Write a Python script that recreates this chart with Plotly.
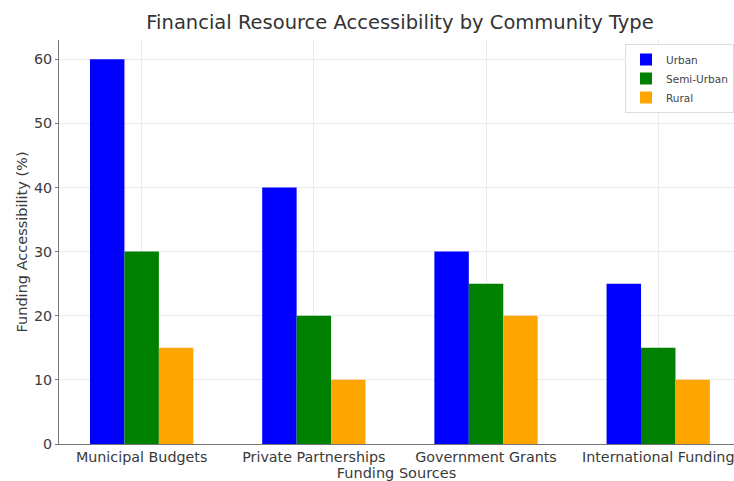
import plotly.graph_objects as go

categories = ["Municipal Budgets", "Private Partnerships", "Government Grants", "International Funding"]
urban = [60, 40, 30, 25]
semi_urban = [30, 20, 25, 15]
rural = [15, 10, 20, 10]
series_names = ["Urban", "Semi-Urban", "Rural"]
colors = ["#0000FF", "#008000", "#FFA500"]

FONT = "DejaVu Sans"

fig = go.Figure()
for name, vals, col in zip(series_names, [urban, semi_urban, rural], colors):
    fig.add_trace(go.Bar(x=categories, y=vals, name=name, marker=dict(color=col, line=dict(width=0))))

fig.update_layout(
    width=734, height=481,
    margin=dict(l=59, r=0, t=40, b=37),
    paper_bgcolor="white", plot_bgcolor="white",
    barmode="group", bargap=0.4, bargroupgap=0,
    font=dict(family=FONT, size=14.3, color="#3a3a3a"),
    title=dict(text="Financial Resource Accessibility by Community Type",
               x=400/734, xanchor="center", y=1 - 22/481, yanchor="middle",
               font=dict(family=FONT, size=19.5, color="#333333")),
    legend=dict(x=1, xanchor="right", y=1 - 4/404, yanchor="top",
                bgcolor="rgba(255,255,255,0.85)", bordercolor="#dddddd", borderwidth=1,
                font=dict(family=FONT, size=10.5, color="#444444"),
                itemwidth=30, tracegroupgap=0),
    showlegend=True,
)
fig.update_xaxes(
    range=[-0.48, 3.44], automargin=False,
    showgrid=True, gridcolor="#ebebeb", gridwidth=1,
    showline=True, linecolor="#777777", linewidth=1,
    ticks="", tickfont=dict(size=14.3, color="#3a3a3a"),
    title=dict(text="Funding Sources", font=dict(size=14.5, color="#3a3a3a"), standoff=4),
)
fig.update_yaxes(
    range=[0, 63], tickvals=[0, 10, 20, 30, 40, 50, 60], automargin=False,
    showgrid=True, gridcolor="#ebebeb", gridwidth=1,
    showline=True, linecolor="#777777", linewidth=1,
    ticks="outside", ticklen=3, tickcolor="#777777",
    tickfont=dict(size=14.3, color="#3a3a3a"),
    title=dict(text="Funding Accessibility (%)", font=dict(size=14.5, color="#3a3a3a"), standoff=2),
    zeroline=False,
)

fig.write_html("out.html")
